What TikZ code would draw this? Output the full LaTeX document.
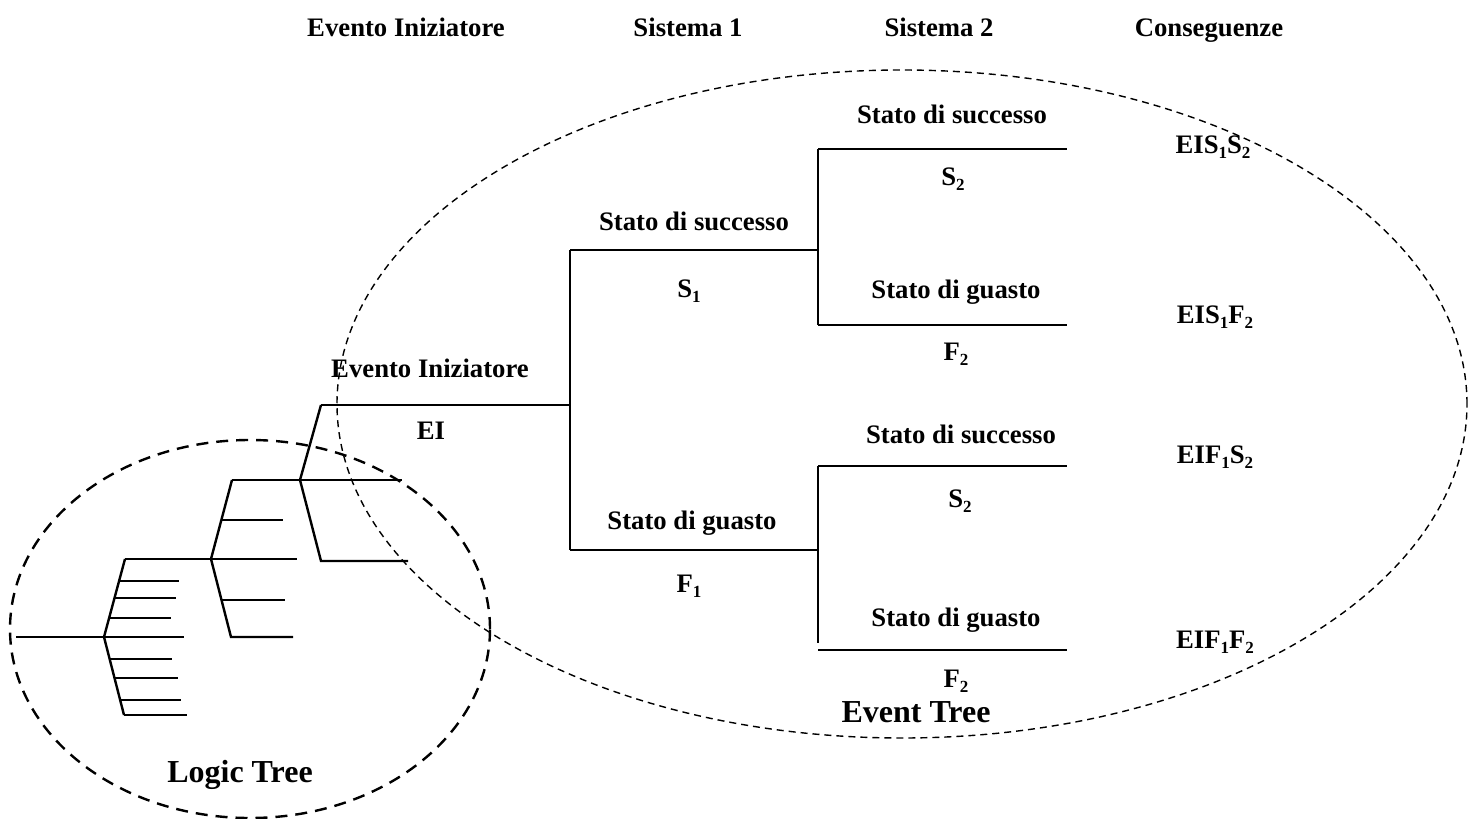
\documentclass[tikz,border=0pt]{standalone}
\usepackage{fontspec}
\setmainfont{Liberation Serif}
\newcommand\lblfont{\fontsize{26.7}{30}\selectfont\bfseries}
\newcommand\bigfont{\fontsize{32}{36}\selectfont\bfseries}
\newcommand\idx[1]{\raisebox{-0.22em}{\fontsize{17}{17}\selectfont\bfseries #1}}
\tikzset{
  lbl/.style={font=\lblfont, anchor=base, inner sep=0pt},
  biglbl/.style={font=\bigfont, anchor=base, inner sep=0pt},
  branch/.style={line width=2pt, line cap=butt},
  twig/.style={line width=2.4pt},
  etzone/.style={dash pattern=on 7pt off 5pt, line width=1.4pt},
  ltzone/.style={dash pattern=on 12pt off 8pt, line width=2.4pt},
}
\begin{document}
\begin{tikzpicture}[x=1pt, y=-1pt]
\useasboundingbox (0,0) rectangle (1476,819);

% column headers
\node[lbl] (hEI) at (406,36) {Evento Iniziatore};
\node[lbl] (hS1) at (688,36) {Sistema 1};
\node[lbl] (hS2) at (939,36) {Sistema 2};
\node[lbl] (hC)  at (1209,36) {Conseguenze};

% event tree junctions
\coordinate (eiL) at (321,405);
\coordinate (eiR) at (570,405);
\coordinate (s1L) at (570,250);
\coordinate (s1R) at (818,250);
\coordinate (f1L) at (570,550);
\coordinate (f1R) at (818,550);
\coordinate (ua)  at (818,149);
\coordinate (ub)  at (818,325);
\coordinate (uaR) at (1067,149);
\coordinate (ubR) at (1067,325);
\coordinate (la)  at (818,466);
\coordinate (lb)  at (818,643);
\coordinate (laR) at (1067,466);
\coordinate (lbL) at (818,650);
\coordinate (lbR) at (1067,650);

% event tree branches
\draw[branch] (eiL) -- (eiR);
\draw[branch] (s1L) -- (f1L);
\draw[branch] (s1L) -- (s1R);
\draw[branch] (f1L) -- (f1R);
\draw[branch] (ua) -- (ub);
\draw[branch] (ua) -- (uaR);
\draw[branch] (ub) -- (ubR);
\draw[branch] (la) -- (lb);
\draw[branch] (la) -- (laR);
\draw[branch] (lbL) -- (lbR);

% event tree labels
\node[lbl] (tEI)  at (430,377) {Evento Iniziatore};
\node[lbl] (tEIs) at (431,439) {EI};
\node[lbl] (tS1)  at (694,230) {Stato di successo};
\node[lbl] (tS1s) at (689,297) {S\idx{1}};
\node[lbl] (tF1)  at (692,529) {Stato di guasto};
\node[lbl] (tF1s) at (689,592) {F\idx{1}};
\node[lbl] (tS2a)  at (952,123) {Stato di successo};
\node[lbl] (tS2as) at (953,185) {S\idx{2}};
\node[lbl] (tF2a)  at (956,298) {Stato di guasto};
\node[lbl] (tF2as) at (956,360) {F\idx{2}};
\node[lbl] (tS2b)  at (961,443) {Stato di successo};
\node[lbl] (tS2bs) at (960,507) {S\idx{2}};
\node[lbl] (tF2b)  at (956,626) {Stato di guasto};
\node[lbl] (tF2bs) at (956,687) {F\idx{2}};

% consequences
\node[lbl] (c1) at (1213,153) {EIS\idx{1}S\idx{2}};
\node[lbl] (c2) at (1215,323) {EIS\idx{1}F\idx{2}};
\node[lbl] (c3) at (1215,463) {EIF\idx{1}S\idx{2}};
\node[lbl] (c4) at (1215,648) {EIF\idx{1}F\idx{2}};

% logic tree: top gate
\coordinate (T)   at (300,480);
\coordinate (Tb)  at (321,561);
\coordinate (Tbr) at (408,561);
\coordinate (Tr)  at (402,480);
\draw[twig] (eiL) -- (T) -- (Tb) -- (Tbr);

% logic tree: middle gate
\coordinate (M)   at (211,559);
\coordinate (Mt)  at (232,480);
\coordinate (Mb)  at (231,637);
\coordinate (Mbr) at (293,637);
\coordinate (Ml)  at (128,559);
\coordinate (Mr)  at (297,559);
\draw[twig] (Mt) -- (Tr);
\draw[twig] (Mt) -- (M) -- (Mb) -- (Mbr);
\draw[twig] (Ml) -- (Mr);
\coordinate (m1a) at (221,520); \coordinate (m1b) at (283,520);
\coordinate (m2a) at (221,600); \coordinate (m2b) at (285,600);
\draw[twig] (m1a) -- (m1b);
\draw[twig] (m2a) -- (m2b);

% logic tree: bottom gate
\coordinate (L)   at (104,637);
\coordinate (Lt)  at (125,559);
\coordinate (Lb)  at (124,715);
\coordinate (Lin) at (16,637);
\coordinate (Lr)  at (184,637);
\draw[twig] (Lt) -- (Ml);
\draw[twig] (Lt) -- (L) -- (Lb);
\draw[twig] (Lin) -- (Lr);
\foreach \ya/\xa/\xb [count=\k] in {581/119/179, 598/114/176, 618/109/171,
                                    659/110/172, 678/114/178, 700/120/181, 715/124/187}{
  \coordinate (l\k a) at (\xa,\ya);
  \coordinate (l\k b) at (\xb,\ya);
  \draw[twig] (l\k a) -- (l\k b);
}

% zones
\draw[etzone] (902,404) ellipse [x radius=565pt, y radius=334pt];
\draw[ltzone] (250,629) ellipse [x radius=240pt, y radius=189pt];

\node[biglbl] (etName) at (916,722) {Event Tree};
\node[biglbl] (ltName) at (240,782) {Logic Tree};
\end{tikzpicture}
\end{document}
